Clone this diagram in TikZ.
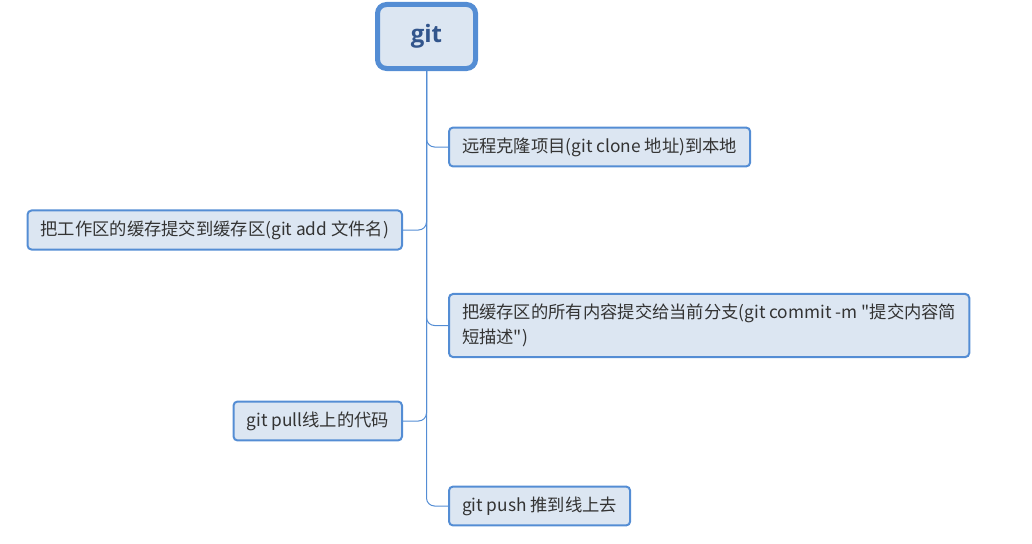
\documentclass[tikz,border=0pt]{standalone}
\usepackage{fontspec}
\setmainfont{Noto Sans CJK SC}[Ligatures=TeXOff]
\newfontfamily\rootfont{Open Sans}
\usepackage{tikz}
\usetikzlibrary{positioning}
\definecolor{topicblue}{RGB}{84, 141, 212}
\definecolor{topicfill}{RGB}{220, 230, 242}
\definecolor{textdark}{RGB}{51, 51, 51}
\definecolor{roottext}{RGB}{50, 85, 140}

\begin{document}
\begin{tikzpicture}[
    x=1pt, y=-1pt,
    topic/.style={rectangle, draw=topicblue, line width=2pt, rounded corners=4pt, fill=topicfill, minimum height=38pt, inner xsep=13pt, inner ysep=10pt, align=left, text=textdark, font=\fontsize{17.3}{25}\selectfont},
    roottopic/.style={topic, line width=5pt, rounded corners=9pt, minimum width=98pt, minimum height=64pt, align=center, text=roottext, font=\rootfont\bfseries\fontsize{24}{28}\selectfont},
    branch/.style={draw=topicblue, line width=1pt, rounded corners=8pt}
]
\useasboundingbox (0,0) rectangle (1032,543);

% Central topic
\node[roottopic] (root) at (426.5,36.5) {git};

% Right side
\node[topic, anchor=west] (clone) at (448,147) {远程克隆项目(git clone 地址)到本地};
\node[topic, anchor=west] (commit) at (448,325.5) {把缓存区的所有内容提交给当前分支(git commit -m "提交内容简\\短描述")};
\node[topic, anchor=west] (push) at (448,506) {git push 推到线上去};

% Left side
\node[topic, anchor=east] (add) at (403,230) {把工作区的缓存提交到缓存区(git add 文件名)};
\node[topic, anchor=east] (pull) at (403,421) {git pull线上的代码};

% Branches from the trunk
\draw[branch] (root.south) |- (clone.west);
\draw[branch] (root.south) |- (add.east);
\draw[branch] (root.south) |- (commit.west);
\draw[branch] (root.south) |- (pull.east);
\draw[branch] (root.south) |- (push.west);

\end{tikzpicture}
\end{document}
